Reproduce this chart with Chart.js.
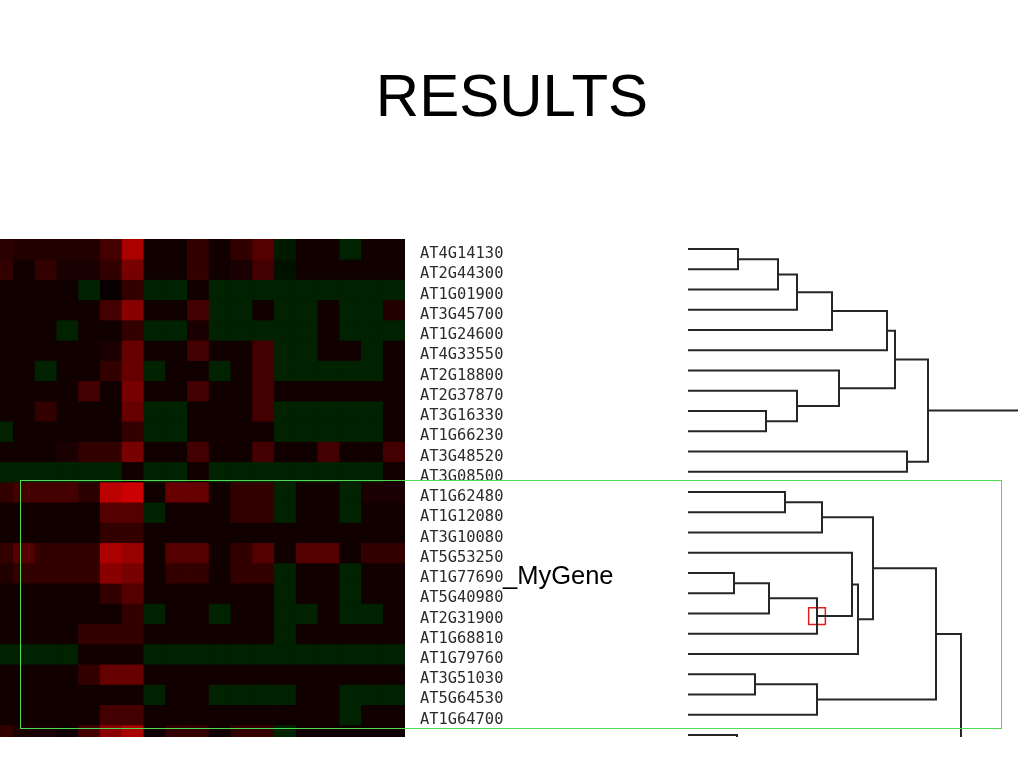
<!DOCTYPE html>
<html>
<head>
<meta charset="utf-8">
<title>RESULTS</title>
<script src="https://cdn.jsdelivr.net/npm/chart.js@4.4.1/dist/chart.umd.min.js"></script>
<style>
  html, body { margin: 0; padding: 0; background: #fff; }
  #slide { position: relative; width: 1024px; height: 768px; overflow: hidden; }
  h1 {
    position: absolute; left: 0; top: 66px; width: 1024px; margin: 0;
    text-align: center; font: 400 60px/60px "Liberation Sans", Arial, sans-serif; color: #000;
  }
  #heatWrap { position: absolute; left: 0; top: 239px; }
  #treeWrap { position: absolute; left: 688px; top: 239px; }
  #myGene {
    position: absolute; left: 503px; top: 563px;
    font: 25.5px/25.5px "Liberation Sans", Arial, sans-serif; color: #000;
  }
  #cluster {
    position: absolute; left: 20px; top: 480px; width: 980px; height: 247px;
    border: 1.5px solid #4cdc4c; z-index: 2;
  }
</style>
</head>
<body>
<div id="slide">
  <h1>RESULTS</h1>
  <div id="heatWrap"><canvas id="heatmap" width="525" height="503"></canvas></div>
  <div id="treeWrap"><canvas id="tree" width="330" height="498"></canvas></div>
  <div id="myGene">_MyGene</div>
  <div id="cluster"></div>
</div>
<script>
// ---------------- Data ----------------

// gene ids, one per heatmap row (last row is cut off at the bottom)
const geneLabels = [
  "AT4G14130", "AT2G44300", "AT1G01900", "AT3G45700", "AT1G24600", "AT4G33550",
  "AT2G18800", "AT2G37870", "AT3G16330", "AT1G66230", "AT3G48520", "AT3G08500",
  "AT1G62480", "AT1G12080", "AT3G10080", "AT5G53250", "AT1G77690", "AT5G40980",
  "AT2G31900", "AT1G68810", "AT1G79760", "AT3G51030", "AT5G64530", "AT1G64700", ""
];

// expression ratios per gene (rows) and condition (columns), + = red, - = green
const expression = [
  [2.5, 2, 2, 2, 2, 4, 10, 1, 1, 3, 1, 3, 5, -1.5, 1, 1, -2, 1, 1],
  [3, 1, 3, 1.5, 1.5, 3, 7, 1, 1, 3, 1, 1.5, 4, -1, 1, 1, 1, 1, 1],
  [1, 1, 1, 1, -2, 0.5, 3, -2, -2, 1, -2, -2, -2, -2, -2, -2, -2, -2, -2],
  [1, 1, 1, 1, 1, 4, 8, 1, 1, 4, -2, -2, 1, -2, -2, 1, -2, -2, 2],
  [1, 1, 1, -2, 1, 1, 3, -2, -2, 1.5, -2, -2, -2, -2, -2, 1, -2, -2, -2],
  [1, 1, 1, 1, 1, 1.5, 6, 1, 1, 4, 1, 1, 4, -2, -2, 1, 1, -2, 1],
  [1, 1, -2, 1, 1, 3, 6, -2, 1, 1, -2, 1, 4, -2, -2, -2, -2, -2, 1],
  [1, 1, 1, 1, 4, 1, 7, 1, 1, 4, 1, 1, 4, 1, 1, 1, 1, 1, 1],
  [1, 1, 3, 1, 1, 1, 6, -2, -2, 1, 1, 1, 4, -2, -2, -2, -2, -2, 1],
  [-2, 1, 1, 1, 1, 1, 3, -2, -2, 1, 1, 1, 1, -2, -2, -2, -2, -2, 1],
  [1, 1, 1, 1.5, 3, 3, 7, 1, 1, 4, 1, 1, 4, 1, 1, 4, 1, 1, 4],
  [-2, -2, -2, -2, -2, -2, 1, -2, -2, 1, -2, -2, -2, -2, -2, -2, -2, -2, 1],
  [3, 4, 4, 4, 2.5, 11, 12, 1, 6, 6, 1, 3, 3, -2, 1, 1, -2, 1.5, 1.5],
  [1, 1, 1, 1, 1, 5, 5, -2, 1, 1, 1, 3, 3, -2, 1, 1, -2, 1, 1],
  [1, 1, 1, 1, 1, 3, 3, 1, 1, 1, 1, 1, 1, 1, 1, 1, 1, 1, 1],
  [3, 5, 3, 3, 3, 10, 9, 1, 5, 5, 1, 3, 5, 1, 5, 5, 1, 3, 3],
  [2, 3, 3, 3, 3, 8, 7, 1, 3, 3, 1, 3, 3, -2, 1, 1, -2, 1, 1],
  [1, 1, 1, 1, 1, 3, 5, 1, 1, 1, 1, 1, 1, -2, 1, 1, -2, 1, 1],
  [1, 1, 1, 1, 1, 1, 3, -2, 1, 1, -2, 1, 1, -2, -2, 1, -2, -2, 1],
  [1, 1, 1, 1, 3, 3, 3, 1, 1, 1, 1, 1, 1, -2, 1, 1, 1, 1, 1],
  [-2, -2, -2, -2, 1, 1, 1, -2, -2, -2, -2, -2, -2, -2, -2, -2, -2, -2, -2],
  [1, 1, 1, 1, 3, 6, 6, 1, 1, 1, 1, 1, 1, 1, 1, 1, 1, 1, 1],
  [1, 1, 1, 1, 1, 1, 1, -2, 1, 1, -2, -2, -2, -2, 1, 1, -2, -2, -2],
  [1, 1, 1, 1, 1, 4, 4, 1, 1, 1, 1, 1, 1, 1, 1, 1, -2, 1, 1],
  [3, 1.5, 1.5, 1, 4, 8, 10, 1, 3, 3, 1, 3, 3, -2, 1, 1, 1, 1, 1]
];

// hierarchical clustering: [node, left child, right child, merge distance]
// numbers are row indices; 36 is a row below the visible crop
const merges = [
  ["A", 0, 1, 50], ["B", "A", 2, 90], ["C", "B", 3, 109], ["D", "C", 4, 144],
  ["E", "D", 5, 199], ["F", 8, 9, 78], ["G", 7, "F", 109], ["H", 6, "G", 151],
  ["I", "E", "H", 207], ["J", 10, 11, 219], ["K", "I", "J", 240],
  ["L", 12, 13, 97], ["M", "L", 14, 134], ["N", 16, 17, 46], ["O", "N", 18, 81],
  ["P", "O", 19, 129], ["Q", 15, "P", 164], ["R", "Q", 20, 170], ["S", "M", "R", 185],
  ["T", 21, 22, 67], ["U", "T", 23, 129], ["V", "S", "U", 248],
  ["X", 24, 36, 49], ["W", "V", "X", 273], ["Z", "K", "W", 345]
];
const highlightNode = "P"; // AT1G77690 (MyGene) branch
const rowMax = 24.6;       // visible part of the row axis
const distMax = 330;       // visible part of the distance axis

// ---------------- Heatmap ----------------
function cellColor(v) {
  const level = Math.min(255, Math.round(Math.abs(v) * 17));
  return v >= 0 ? `rgb(${level},0,0)` : `rgb(0,${level},0)`;
}

const heatDatasets = expression.map((row, r) => ({
  data: row.map((v, c) => ({ x: c + 0.5, y: [r, r + 1] })),
  backgroundColor: row.map(cellColor),
  borderWidth: 0,
  inflateAmount: 0.4,
  grouped: false,
  barPercentage: 1,
  categoryPercentage: 1,
}));

new Chart(document.getElementById("heatmap"), {
  type: "bar",
  data: { datasets: heatDatasets },
  options: {
    responsive: false,
    animation: false,
    layout: { autoPadding: false, padding: { top: 0, right: 0, bottom: 5, left: 0 } },
    plugins: { legend: { display: false }, tooltip: { enabled: false } },
    scales: {
      x: {
        type: "linear", min: 0.385, max: 19, offset: false, display: false,
        afterBuildTicks: (s) => { s.ticks = expression[0].map((_, c) => ({ value: c + 1 })); },
      },
      y: {
        type: "linear", reverse: true, min: 0, max: rowMax, position: "right",
        grid: { display: false, drawTicks: false },
        border: { display: false },
        afterBuildTicks: (s) => { s.ticks = geneLabels.map((_, i) => ({ value: i + 0.5 })); },
        afterFit: (s) => { s.width = 120; s.paddingTop = 0; s.paddingBottom = 0; },
        ticks: {
          autoSkip: false, padding: 15, labelOffset: 5, color: "#2b2b2b",
          font: { family: "DejaVu Sans Mono", size: 15.4 },
          callback: (value) => geneLabels[Math.floor(value)],
        },
      },
    },
  },
});

// ---------------- Dendrogram ----------------
const nodes = {};
function nodeOf(id) {
  if (typeof id === "number") return { y: id + 0.5, h: 0 };
  return nodes[id];
}

const treeDatasets = [];
merges.forEach(([id, a, b, h]) => {
  const na = nodeOf(a);
  const nb = nodeOf(b);
  treeDatasets.push({
    data: [
      { x: na.h, y: na.y }, { x: h, y: na.y },
      { x: h, y: nb.y }, { x: nb.h, y: nb.y },
    ],
    borderColor: "#262626",
    borderWidth: 2,
    pointRadius: 0,
    fill: false,
    tension: 0,
  });
  nodes[id] = { y: (na.y + nb.y) / 2, h: h };
});

// red marker on the MyGene node
treeDatasets.push({
  data: [{ x: nodes[highlightNode].h, y: nodes[highlightNode].y }],
  showLine: false,
  pointStyle: "rect",
  pointRadius: 11.8,
  pointBorderColor: "#e01e1e",
  pointBackgroundColor: "rgba(0,0,0,0)",
  pointBorderWidth: 1.5,
});

new Chart(document.getElementById("tree"), {
  type: "line",
  data: { datasets: treeDatasets },
  options: {
    responsive: false,
    animation: false,
    layout: { autoPadding: false, padding: 0 },
    plugins: { legend: { display: false }, tooltip: { enabled: false } },
    scales: {
      x: { type: "linear", min: 0, max: distMax, display: false },
      y: { type: "linear", reverse: true, min: 0, max: rowMax, display: false },
    },
  },
});
</script>
</body>
</html>
